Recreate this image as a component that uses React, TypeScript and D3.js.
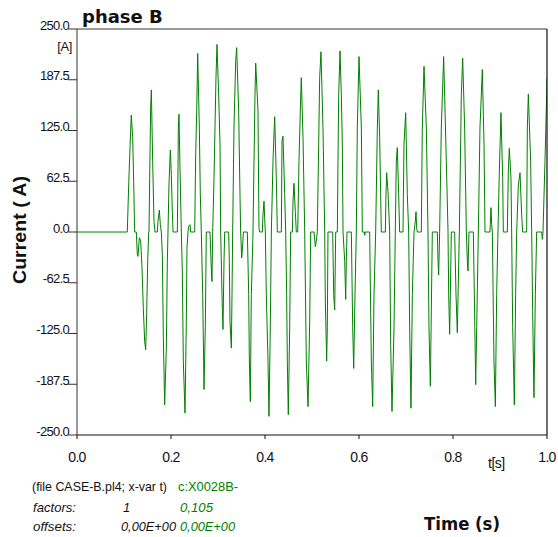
import React from "react";
import * as d3 from "d3";

const phaseBPoints: [number, number][] = [
  [0, 0], [0.107, 0],
  [0.110, 58], [0.113, 108], [0.1155, 144], [0.1185, 116], [0.1206, 62], [0.1227, 0],
  [0.1262, 0], [0.1283, -28], [0.1298, -30], [0.1326, -7], [0.1355, -11], [0.1383, -44], [0.1411, -94], [0.144, -135], [0.1461, -145], [0.1482, -102], [0.1504, -36], [0.1525, 0],
  [0.1532, 0], [0.1546, 66], [0.1567, 153], [0.1582, 175], [0.1610, 87], [0.1638, 13], [0.1660, 0],
  [0.1709, 0], [0.1723, 13], [0.1752, 27], [0.1773, 9], [0.1794, 0],
  [0.1816, -28], [0.1837, -131], [0.1865, -213], [0.1901, -143], [0.1922, -36], [0.1936, 0],
  [0.1957, 58], [0.1986, 101], [0.2007, 71], [0.2028, 25], [0.2043, 0],
  [0.2135, 0], [0.2149, 79], [0.2156, 128], [0.2170, 145], [0.2191, 79], [0.2220, 0],
  [0.2241, -48], [0.2262, -159], [0.2298, -223], [0.2326, -110], [0.2340, -20], [0.2362, 0],
  [0.2376, 7], [0.2404, 9], [0.2419, 0],
  [0.2504, 0], [0.2525, 95], [0.2547, 149], [0.2568, 220], [0.2603, 128], [0.2624, 46], [0.2645, 0],
  [0.2674, -77], [0.2695, -159], [0.2702, -194], [0.2730, -118], [0.2751, 0],
  [0.2830, 0], [0.2851, -36], [0.2872, -61], [0.2887, 0],
  [0.2915, 66], [0.2957, 190], [0.2979, 231], [0.3014, 169], [0.3043, 108], [0.3057, 0],
  [0.3085, -77], [0.3106, -120], [0.3128, -36], [0.3142, 0],
  [0.3227, 0], [0.3241, -36], [0.3255, -110], [0.3284, -143], [0.3298, -77], [0.3312, 0],
  [0.3340, 128], [0.3376, 210], [0.3397, 227], [0.3440, 149], [0.3468, 46], [0.3482, 0],
  [0.3504, -32], [0.3525, -16], [0.3539, 0],
  [0.3624, 0], [0.3653, -77], [0.3667, -159], [0.3688, -209], [0.3709, -77], [0.3745, 0],
  [0.3766, 87], [0.3787, 169], [0.3802, 208], [0.3851, 149], [0.3872, 5], [0.3887, 0],
  [0.3943, 0], [0.3957, 21], [0.3979, 38], [0.3993, 17], [0.4007, 0],
  [0.4028, -77], [0.4064, -159], [0.4085, -227], [0.4113, -118], [0.4135, 0],
  [0.4170, 87], [0.4206, 142], [0.4241, 66], [0.4262, 0],
  [0.4348, 0], [0.4362, 112], [0.4383, 118], [0.4419, 46], [0.4440, 0],
  [0.4461, -77], [0.4475, -159], [0.4496, -225], [0.4525, -118], [0.4546, 0],
  [0.4582, 0], [0.4596, 38], [0.4617, 60], [0.4645, 25], [0.4666, 0],
  [0.4696, 0], [0.4723, 87], [0.4751, 149], [0.4772, 190], [0.4809, 116], [0.4845, 0],
  [0.4879, -159], [0.4915, -215], [0.4951, -110], [0.4972, 0],
  [0.5043, 0], [0.5071, -18], [0.5092, -11], [0.5113, 0],
  [0.5142, 108], [0.5163, 190], [0.5191, 222], [0.5234, 128], [0.5270, 0],
  [0.5284, -85], [0.5312, -159], [0.5326, -118], [0.5340, 0],
  [0.5440, 0], [0.5462, -77], [0.5483, -96], [0.5504, 0],
  [0.5539, 0], [0.5553, 87], [0.5568, 169], [0.5596, 223], [0.5624, 169], [0.5645, 108], [0.5660, 0],
  [0.5696, -36], [0.5717, -83], [0.5730, -36], [0.5745, 0],
  [0.5837, 0], [0.5866, -118], [0.5887, -168], [0.5915, -77], [0.5943, 0],
  [0.5964, 128], [0.6000, 216], [0.6050, 128], [0.6071, 0],
  [0.6113, 0], [0.6121, -4], [0.6135, 0],
  [0.6227, 0], [0.6262, -159], [0.6291, -215], [0.6319, -77], [0.6355, 0],
  [0.6390, 128], [0.6411, 175], [0.6440, 116], [0.6475, 0],
  [0.6560, 0], [0.6574, 46], [0.6589, 73], [0.6617, 50], [0.6653, 0],
  [0.6674, -139], [0.6702, -221], [0.6745, -118], [0.6772, 0],
  [0.6794, 87], [0.6815, 104], [0.6844, 46], [0.6865, 0],
  [0.6936, 0], [0.6957, 108], [0.6993, 147], [0.7028, 46], [0.7057, 0],
  [0.7078, -118], [0.7106, -217], [0.7135, -77], [0.7170, 0],
  [0.7198, 13], [0.7213, 25], [0.7227, 5], [0.7241, 0],
  [0.7326, 0], [0.7347, 128], [0.7383, 204], [0.7433, 128], [0.7468, 0],
  [0.7489, -118], [0.7518, -190], [0.7560, 0],
  [0.7667, 0], [0.7681, -36], [0.7695, -53], [0.7716, 0],
  [0.7751, 128], [0.7801, 216], [0.7858, 87], [0.7894, 0],
  [0.7908, -77], [0.7929, -126], [0.7965, 0],
  [0.8035, 0], [0.8064, -77], [0.8092, -124], [0.8135, 0],
  [0.8177, 169], [0.8206, 214], [0.8248, 128], [0.8284, 0],
  [0.8305, -36], [0.8319, -48], [0.8340, 0],
  [0.8433, 0], [0.8454, -77], [0.8483, -188], [0.8504, -118], [0.8539, 0],
  [0.8574, 128], [0.8624, 200], [0.8660, 108], [0.8681, 0],
  [0.8787, 0], [0.8801, 21], [0.8809, 30], [0.8823, 9], [0.8837, 0],
  [0.8872, -159], [0.8901, -215], [0.8929, -77], [0.8957, 0],
  [0.8986, 75], [0.9021, 147], [0.9057, 66], [0.9071, 0],
  [0.9156, 0], [0.9177, 75], [0.9198, 103], [0.9234, 66], [0.9248, 0],
  [0.9270, -118], [0.9305, -213], [0.9333, -77], [0.9355, 0],
  [0.9390, 58], [0.9426, 73], [0.9461, 21], [0.9482, 0],
  [0.9567, 0], [0.9582, 128], [0.9603, 170], [0.9652, 87], [0.9674, 0],
  [0.9695, -98], [0.9723, -204], [0.9752, -77], [0.9780, 0],
  [0.9887, 0], [0.9901, -9], [0.9915, 0],
  [0.9957, 87], [0.9993, 169], [1.0, 190],
];

const xTicks = [0, 0.2, 0.4, 0.6, 0.8, 1.0];
const xTickLabels = ["0.0", "0.2", "0.4", "0.6", "0.8", "1.0"];
const yTicks = [250, 187.5, 125, 62.5, 0, -62.5, -125, -187.5, -250];
const yTickLabels = ["250.0", "187.5", "125.0", "62.5", "0.0", "-62.5", "-125.0", "-187.5", "-250.0"];

const W = 558;
const H = 537;
const L = 77, R = 547, T = 29, B = 435;
const GREEN = "#008000";
const SANS = "'Liberation Sans', Arial, sans-serif";
const WIDE = "'DejaVu Sans', Verdana, sans-serif";

export default function App() {
  const x = d3.scaleLinear().domain([0, 1]).range([L, R]);
  const y = d3.scaleLinear().domain([-250, 250]).range([B, T]);
  const line = d3
    .line<[number, number]>()
    .x((d) => x(d[0]))
    .y((d) => y(d[1]));

  return (
    <svg
      width={W}
      height={H}
      style={{ position: "absolute", left: 0, top: 0, background: "#fff" }}
    >
      <rect x={0} y={0} width={W} height={H} fill="#fff" />
      <defs>
        <clipPath id="plotclip">
          <rect x={L} y={T - 2} width={R - L} height={B - T + 4} />
        </clipPath>
      </defs>

      {/* waveform */}
      <path
        d={line(phaseBPoints) || ""}
        fill="none"
        stroke={GREEN}
        strokeWidth={1}
        clipPath="url(#plotclip)"
      />

      {/* frame */}
      <line x1={L} x2={R} y1={T} y2={T} stroke="#7a7a7a" strokeWidth={1.5} />
      <line x1={L} x2={L} y1={T} y2={B} stroke="#555" strokeWidth={1.2} />
      <line x1={R} x2={R} y1={T} y2={B} stroke="#111" strokeWidth={1.2} />
      <line x1={L} x2={R} y1={B} y2={B} stroke="#111" strokeWidth={1.2} />

      {/* y ticks */}
      {yTicks.map((v, i) => (
        <g key={"y" + i}>
          <line x1={L - 9} x2={L} y1={y(v)} y2={y(v)} stroke="#333" strokeWidth={1} />
          <text
            x={L - 8}
            y={y(v) + 0.5}
            textAnchor="end"
            fontFamily={SANS}
            fontSize={13}
            letterSpacing={-0.7}
            fill="#111"
          >
            {yTickLabels[i]}
          </text>
        </g>
      ))}
      <text x={72} y={51} textAnchor="end" fontFamily={SANS} fontSize={13} letterSpacing={-0.4} fill="#111">
        [A]
      </text>

      {/* x ticks */}
      {xTicks.map((v, i) => (
        <g key={"x" + i}>
          <line x1={x(v)} x2={x(v)} y1={B} y2={B + 4} stroke="#111" strokeWidth={1} />
          <text
            x={x(v)}
            y={462}
            textAnchor="middle"
            fontFamily={SANS}
            fontSize={14}
            letterSpacing={-0.7}
            fill="#111"
          >
            {xTickLabels[i]}
          </text>
        </g>
      ))}
      <text x={488} y={468} fontFamily={SANS} fontSize={14} letterSpacing={-0.5} fill="#111">
        t[s]
      </text>

      {/* title */}
      <text x={82} y={23} fontFamily={WIDE} fontWeight="bold" fontSize={18} fill="#111">
        phase B
      </text>

      {/* y axis title */}
      <text
        transform="translate(26,230) rotate(-90)"
        textAnchor="middle"
        fontFamily={SANS}
        fontWeight="bold"
        fontSize={19}
        textLength={108}
        lengthAdjust="spacingAndGlyphs"
        fill="#111"
      >
        Current ( A)
      </text>

      {/* x axis title */}
      <text x={424} y={530} fontFamily={WIDE} fontWeight="bold" fontSize={17} textLength={76} lengthAdjust="spacingAndGlyphs" fill="#111">
        Time (s)
      </text>

      {/* info block */}
      <text x={32} y={491} fontFamily={SANS} fontSize={13} textLength={135} lengthAdjust="spacingAndGlyphs" fill="#111">
        (file CASE-B.pl4; x-var t)
      </text>
      <text x={178} y={491} fontFamily={SANS} fontSize={13} textLength={60} lengthAdjust="spacingAndGlyphs" fill={GREEN}>
        c:X0028B-
      </text>
      <text x={33} y={512} fontFamily={SANS} fontStyle="italic" fontSize={13} textLength={43} lengthAdjust="spacingAndGlyphs" fill="#111">
        factors:
      </text>
      <text x={123} y={512} fontFamily={SANS} fontStyle="italic" fontSize={13} fill="#111">
        1
      </text>
      <text x={180} y={512} fontFamily={SANS} fontStyle="italic" fontSize={13} textLength={33} lengthAdjust="spacingAndGlyphs" fill={GREEN}>
        0,105
      </text>
      <text x={33} y={531} fontFamily={SANS} fontStyle="italic" fontSize={13} textLength={43} lengthAdjust="spacingAndGlyphs" fill="#111">
        offsets:
      </text>
      <text x={121} y={531} fontFamily={SANS} fontStyle="italic" fontSize={13} textLength={55} lengthAdjust="spacingAndGlyphs" fill="#111">
        0,00E+00
      </text>
      <text x={180} y={531} fontFamily={SANS} fontStyle="italic" fontSize={13} textLength={55} lengthAdjust="spacingAndGlyphs" fill={GREEN}>
        0,00E+00
      </text>
    </svg>
  );
}
